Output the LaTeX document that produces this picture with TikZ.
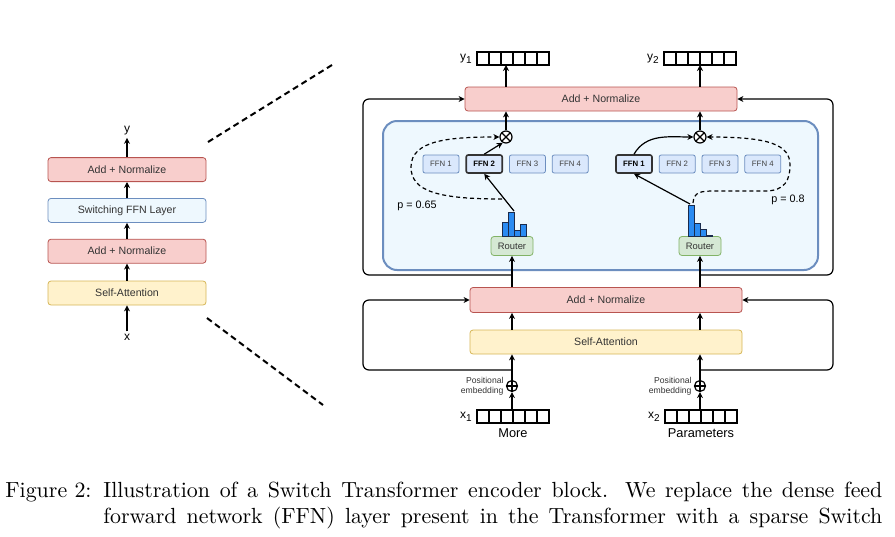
\documentclass[tikz,border=0pt]{standalone}
\usepackage{fontspec}
\setsansfont{Liberation Sans}
\usepackage{tikz}
\usetikzlibrary{arrows.meta,positioning,calc}

\definecolor{anfill}{HTML}{F8CECC}
\definecolor{andraw}{HTML}{B85450}
\definecolor{safill}{HTML}{FFF2CC}
\definecolor{sadraw}{HTML}{D6B656}
\definecolor{moefill}{HTML}{EEF8FE}
\definecolor{moedraw}{HTML}{6C8EBF}
\definecolor{ffnfill}{HTML}{DAE8FC}
\definecolor{rtfill}{HTML}{D5E8D4}
\definecolor{rtdraw}{HTML}{82B366}
\definecolor{barfill}{HTML}{2A8BF2}
\definecolor{bardraw}{HTML}{1A2B4C}

\begin{document}
\begin{tikzpicture}[x=0.5pt, y=-0.5pt,
  box/.style={draw, rounded corners=1.5pt, minimum width=79pt, minimum height=12pt, inner sep=0pt, font=\sffamily\fontsize{5.3}{6}\selectfont, text=black!80},
  addnorm/.style={box, fill=anfill, draw=andraw},
  attn/.style={box, fill=safill, draw=sadraw},
  switch/.style={box, fill=moefill, draw=moedraw},
  moe/.style={fill=moefill, draw=moedraw, line width=1pt, rounded corners=7pt},
  ffn/.style={draw=moedraw, fill=ffnfill, rounded corners=1pt, minimum width=18pt, minimum height=9pt, inner sep=0pt, font=\sffamily\fontsize{3.9}{4}\selectfont, text=black!75},
  ffnsel/.style={ffn, draw=black!80, line width=0.8pt, font=\sffamily\bfseries\fontsize{3.9}{4}\selectfont, text=black},
  router/.style={draw=rtdraw, fill=rtfill, rounded corners=1.5pt, minimum width=21pt, minimum height=9.5pt, inner sep=0pt, font=\sffamily\fontsize{4.7}{5}\selectfont, text=black!80},
  bar/.style={fill=barfill, draw=bardraw, line width=0.4pt},
  vecbox/.style={draw, line width=0.8pt, minimum width=36pt, minimum height=6.5pt, inner sep=0pt, outer sep=0pt},
  cell/.style={line width=0.8pt},
  otimes/.style={circle, draw, line width=0.6pt, fill=white, minimum size=6pt, inner sep=0pt,
    path picture={\draw[line width=0.6pt] (path picture bounding box.north west) -- (path picture bounding box.south east)
      (path picture bounding box.north east) -- (path picture bounding box.south west);}},
  oplus/.style={circle, draw, line width=0.6pt, fill=white, minimum size=5.5pt, inner sep=0pt,
    path picture={\draw[line width=0.6pt] (path picture bounding box.north) -- (path picture bounding box.south)
      (path picture bounding box.east) -- (path picture bounding box.west);}},
  arrow/.style={-{Stealth[length=3pt, width=3pt]}, line width=0.6pt},
  skip/.style={arrow, rounded corners=3pt},
  gate/.style={arrow, dash pattern=on 2pt off 1.5pt},
  zoomline/.style={dash pattern=on 3pt off 2pt, line width=1pt},
  lbl/.style={font=\sffamily\fontsize{6}{7}\selectfont, inner sep=1pt},
  word/.style={font=\sffamily\fontsize{6.4}{7}\selectfont, inner sep=1pt},
  ptext/.style={font=\sffamily\fontsize{5.4}{6}\selectfont, inner sep=0pt},
  note/.style={font=\sffamily\fontsize{4.3}{5}\selectfont, align=right, inner sep=0pt, text=black!80},
  caption/.style={font=\rmfamily\fontsize{10.95}{13}\selectfont, inner sep=0pt, anchor=north west}
]
\useasboundingbox (0,0) rectangle (895,536);

% left: the encoder block
\node[attn] (sa) at (127,293) {Self-Attention};
\node[addnorm, above=8.5pt of sa] (an1) {Add + Normalize};
\node[switch, above=8pt of an1] (sw) {Switching FFN Layer};
\node[addnorm, above=8pt of sw] (an2) {Add + Normalize};
\node[lbl] (yout) at (127,131) {y};
\node[lbl] (xin) at (127,337) {x};

\draw[arrow] (xin) -- (sa);
\draw[arrow] (sa) -- (an1);
\draw[arrow] (an1) -- (sw);
\draw[arrow] (sw) -- (an2);
\draw[arrow] (an2) -- (yout);

% zoom lines
\coordinate (z1) at (208,142);
\coordinate (z2) at (332,65);
\coordinate (z3) at (207,318);
\coordinate (z4) at (323,405);
\draw[zoomline] (z1) -- (z2);
\draw[zoomline] (z3) -- (z4);

% right: the switching layer in detail
\draw[moe] (383,121) rectangle (818,270);

\node[addnorm, minimum width=136pt] (tan) at (601,99) {Add + Normalize};
\node[addnorm, minimum width=136pt, minimum height=12.5pt] (lan) at (606,300) {Add + Normalize};
\node[attn, minimum width=136pt] (lsa) at (606,342) {Self-Attention};

\node[router] (lr) at (512,246) {Router};
\node[router] (rr) at (700,246) {Router};

\node[ffn] (lf1) at (441,164) {FFN 1};
\node[ffnsel, right=3pt of lf1] (lf2) {FFN 2};
\node[ffn, right=3pt of lf2] (lf3) {FFN 3};
\node[ffn, right=3pt of lf3] (lf4) {FFN 4};
\node[ffnsel] (rf1) at (634,164) {FFN 1};
\node[ffn, right=3pt of rf1] (rf2) {FFN 2};
\node[ffn, right=3pt of rf2] (rf3) {FFN 3};
\node[ffn, right=3pt of rf3] (rf4) {FFN 4};

% router histograms
\foreach \xx/\h in {502/222, 508/212, 514/230, 520/224}
  \draw[bar] (\xx,236) rectangle (\xx+6,\h);
\foreach \xx/\h in {688/205, 694/223, 700/229, 706/235}
  \draw[bar] (\xx,236) rectangle (\xx+6,\h);
\coordinate (lh) at (514,211);
\coordinate (lhd) at (502,199);
\coordinate (rh) at (690,204);
\coordinate (rhd) at (693,203);

\node[otimes] (lm) at (506,137) {};
\node[otimes] (rm) at (700,137) {};
\node[oplus] (lp) at (512,386) {};
\node[oplus] (rp) at (700,386) {};

% token vectors
\node[vecbox] (y1v) at (513,58.5) {};
\node[vecbox] (y2v) at (700,58.5) {};
\node[vecbox] (x1v) at (513,416.5) {};
\node[vecbox] (x2v) at (701,416.5) {};
\foreach \v in {y1v,y2v,x1v,x2v}
  \foreach \i in {1,...,5}
    \draw[cell] ([xshift=\i*6pt]\v.south west) -- ([xshift=\i*6pt]\v.north west);

\node[lbl, left=1pt of y1v] (y1) {y\textsubscript{1}};
\node[lbl, left=1pt of y2v] (y2) {y\textsubscript{2}};
\node[lbl, left=1pt of x1v] (x1) {x\textsubscript{1}};
\node[lbl, left=1pt of x2v] (x2) {x\textsubscript{2}};
\node[word, below=1.5pt of x1v] (more) {More};
\node[word, below=1.5pt of x2v] (params) {Parameters};
\node[note, left=1pt of lp] (lpe) {Positional\\embedding};
\node[note, left=1pt of rp] (rpe) {Positional\\embedding};
\node[ptext] (pl) at (417,206) {p = 0.65};
\node[ptext] (pr) at (788,200) {p = 0.8};

% token path, left
\draw[arrow] (lp |- x1v.north) -- (lp.south);
\draw[arrow] (lp.north) -- (lp.north |- lsa.south);
\draw[arrow] (lsa.north -| lp) -- (lan.south -| lp);
\draw[arrow] (lan.north -| lr) -- (lr.south);
\draw[arrow] (lh) -- (lf2.south);
\draw[arrow] (lf2.north) -- (lm.240);
\draw[gate] (lhd) .. controls (440,199) and (411,192) .. (411,167) .. controls (411,140) and (450,137) .. (lm.west);
\draw[arrow] (lm.north) -- (lm |- tan.south);
\draw[arrow] (tan.north -| lm) -- (lm |- y1v.south);

% token path, right
\draw[arrow] (rp |- x2v.north) -- (rp.south);
\draw[arrow] (rp.north) -- (rp.north |- lsa.south);
\draw[arrow] (lsa.north -| rp) -- (lan.south -| rp);
\draw[arrow] (lan.north -| rr) -- (rr.south);
\draw[arrow] (rh) -- (rf1.south);
\draw[arrow] (rf1.north) to[out=60, in=180] (rm.west);
\draw[gate] (rhd) .. controls (694,192) and (700,191) .. (715,191) -- (765,191) .. controls (785,191) and (790,180) .. (790,165) .. controls (790,145) and (770,137) .. (rm.east);
\draw[arrow] (rm.north) -- (rm |- tan.south);
\draw[arrow] (tan.north -| rm) -- (rm |- y2v.south);

% residual connections
\coordinate (tl) at (512,275);
\coordinate (tr) at (700,275);
\coordinate (bl) at (512,370);
\coordinate (br) at (700,370);
\draw[skip] (tl) -| (363,200) |- (tan.west);
\draw[skip] (tr) -| (833,200) |- (tan.east);
\draw[skip] (bl) -| (363,330) |- (lan.west);
\draw[skip] (br) -| (833,330) |- (lan.east);

% caption
\node[caption] (fig) at (5,482) {Figure 2:};
\node[caption, text width=389.5pt, align=justify] (cap) at (103,482) {\parfillskip=0pt
  Illustration of a Switch Transformer encoder block.  We replace the dense feed\linebreak
  forward network (FFN) layer present in the Transformer with a sparse Switch\par};
\end{tikzpicture}
\end{document}
